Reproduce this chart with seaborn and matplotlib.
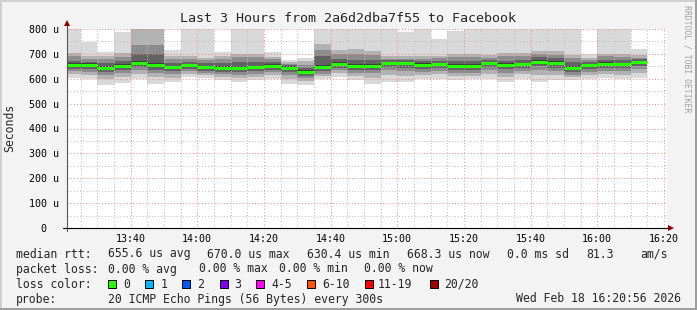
import numpy as np
import matplotlib
matplotlib.use("Agg")
import matplotlib.pyplot as plt
from matplotlib.patches import Rectangle
import seaborn as sns

sns.set_theme(style="white")
plt.rcParams["font.family"] = ["DejaVu Sans Mono", "DejaVu Sans"]

# ---------------- data (microseconds) ----------------
# 5-minute blocks, first starts at 13:20 (minutes after midnight)
block_start = np.arange(800, 975, 5)

median = [655, 655, 644, 651, 663, 655, 647, 655, 647, 643, 644, 646, 652, 644, 628, 647, 660, 652,
          651, 663, 663, 657, 660, 652, 652, 663, 657, 660, 669, 663, 644, 655, 660, 660, 668]
hi1 = [800, 749, 707, 787, 800, 800, 716, 800, 800, 709, 800, 800, 706, 675, 685, 800, 800, 800,
       800, 800, 787, 800, 760, 792, 800, 800, 800, 800, 800, 800, 800, 698, 800, 800, 720]
hi3 = [705, 690, 693, 702, 800, 800, 690, 690, 683, 690, 700, 700, 688, 668, 670, 740, 715, 720,
       710, 690, 690, 690, 690, 700, 700, 695, 705, 705, 710, 710, 695, 685, 700, 700, 695]
hi5 = [690, 678, 680, 688, 736, 736, 678, 680, 675, 680, 688, 686, 678, 660, 655, 715, 700, 700,
       695, 680, 680, 680, 682, 688, 688, 685, 690, 692, 698, 696, 682, 675, 690, 688, 685]
hi7 = [672, 668, 664, 670, 700, 700, 662, 668, 662, 665, 668, 668, 668, 655, 645, 690, 680, 676,
       675, 675, 674, 670, 672, 670, 670, 676, 672, 676, 688, 684, 666, 668, 676, 676, 680]
hi9 = [662, 662, 652, 658, 672, 665, 653, 661, 653, 650, 651, 653, 658, 650, 635, 655, 667, 660,
       658, 668, 668, 663, 665, 658, 658, 668, 663, 665, 675, 670, 650, 660, 666, 665, 673]
lo9 = [647, 646, 636, 644, 655, 646, 640, 647, 640, 636, 636, 638, 645, 636, 620, 638, 652, 644,
       643, 655, 655, 648, 652, 644, 645, 655, 648, 652, 660, 655, 636, 648, 652, 652, 660]
lo7 = [640, 638, 626, 636, 646, 636, 632, 640, 632, 628, 628, 630, 636, 628, 612, 630, 644, 636,
       634, 646, 645, 638, 644, 636, 636, 646, 638, 644, 650, 645, 628, 640, 644, 643, 652]
lo5 = [630, 628, 614, 624, 635, 624, 620, 630, 624, 618, 616, 618, 626, 615, 602, 620, 634, 624,
       622, 634, 632, 626, 632, 624, 625, 634, 624, 632, 636, 632, 616, 628, 632, 630, 640]
lo3 = [618, 614, 598, 606, 618, 606, 604, 620, 614, 606, 602, 606, 614, 598, 590, 610, 622, 610,
       604, 614, 612, 614, 618, 610, 612, 620, 606, 618, 614, 614, 606, 616, 620, 614, 625]
lo1 = [604, 601, 575, 584, 598, 580, 588, 608, 604, 595, 588, 595, 600, 579, 575, 600, 608, 595,
       579, 586, 588, 601, 601, 595, 598, 601, 586, 601, 586, 595, 595, 601, 604, 598, 604]

ytick_vals = [0, 100, 200, 300, 400, 500, 600, 700, 800]
ytick_labels = ["0", "100 u", "200 u", "300 u", "400 u", "500 u", "600 u", "700 u", "800 u"]
xtick_vals = [820, 840, 860, 880, 900, 920, 940, 960, 980]
xtick_labels = ["13:40", "14:00", "14:20", "14:40", "15:00", "15:20", "15:40", "16:00", "16:20"]

title = "Last 3 Hours from 2a6d2dba7f55 to Facebook"
loss_labels = ["0", "1", "2", "3", "4-5", "6-10", "11-19", "20/20"]
loss_colors = ["#26ff00", "#00b8ff", "#0059ff", "#7e00ff", "#ff00ff", "#ff5500", "#ff0000", "#a10000"]

# ---------------- figure ----------------
W, H, DPI = 697, 310, 100
fig = plt.figure(figsize=(W / DPI, H / DPI), dpi=DPI, facecolor="#f3f3f3")

def fx(px):
    return px / W

def fy(py):
    return 1 - py / H

ax_left, ax_right, ax_top, ax_bot = 67, 667, 29, 228
ax = fig.add_axes([fx(ax_left), fy(ax_bot), (ax_right - ax_left) / W, (ax_bot - ax_top) / H])
ax.set_facecolor("white")
t0 = 800 + 56 / 60
ax.set_xlim(t0, t0 + 180)
ax.set_ylim(0, 800)

def tpx(px):
    return t0 + (px - ax_left) * 180 / (ax_right - ax_left)

def vpx(py):
    return (ax_bot - py) * 800 / (ax_bot - ax_top)

edges = np.append(block_start, block_start[-1] + 5)
layers = [(lo1, hi1, "#d9d9d9"), (lo3, hi3, "#b2b2b2"), (lo5, hi5, "#8c8c8c"),
          (lo7, hi7, "#636363"), (lo9, hi9, "#3c3c3c")]
for lo, hi, c in layers:
    ax.stairs(hi, edges, baseline=lo, fill=True, color=c, lw=0, zorder=1)

ax.hlines(median, edges[:-1], edges[1:], color="#26ff00", lw=2.2, zorder=3, capstyle="butt")

# grid
ax.set_yticks(ytick_vals)
ax.set_yticklabels(ytick_labels)
ax.set_yticks(np.arange(50, 800, 100), minor=True)
ax.set_xticks(xtick_vals)
ax.set_xticklabels(xtick_labels)
ax.set_xticks([m for m in range(805, 981, 5) if m not in xtick_vals], minor=True)
ax.set_axisbelow(False)
ax.grid(which="major", color="#f08080", linestyle=(0, (1, 2)), lw=0.75, alpha=0.85)
ax.grid(which="minor", color="#c0c0c0", linestyle=(0, (1, 2)), lw=0.75)
ax.tick_params(which="both", length=0)
ax.tick_params(axis="y", pad=5.5, labelsize=7.2, labelcolor="black")
ax.tick_params(axis="x", pad=4.2, labelsize=7.2, labelcolor="black")
ax.yaxis.get_major_ticks()[0].label1.set_x(-12.5 / (ax_right - ax_left))
for s in ax.spines.values():
    s.set_visible(False)

# axis lines and arrows
ax.plot([tpx(63), tpx(669)], [0, 0], color="black", lw=0.8, clip_on=False, zorder=5)
ax.plot([t0, t0], [vpx(231), vpx(24)], color="#555555", lw=0.8, clip_on=False, zorder=5)
ax.plot([tpx(671)], [0], marker=">", ms=4.5, color="#8b0000", clip_on=False, zorder=6, mew=0)
ax.plot([t0], [vpx(23)], marker="^", ms=4.5, color="#8b0000", clip_on=False, zorder=6, mew=0)

# texts
fig.text(fx(348), fy(18), title, ha="center", va="center", fontsize=9.6)
fig.text(fx(10), fy(128), "Seconds", rotation=90, ha="center", va="center", fontsize=8.3)
fig.text(fx(687.5), fy(5), "RRDTOOL / TOBI OETIKER", rotation=270, ha="center", va="top",
         fontsize=5.9, color="#a0a0a0")

fs = 8.3
rows = {
    254: [(16, "median rtt:"), (107.6, "655.6 us avg"), (206.7, "670.0 us max"), (306.7, "630.4 us min"),
          (406.7, "668.3 us now"), (506.7, "0.0 ms sd"), (585.8, "81.3"), (640, "am/s")],
    269: [(16, "packet loss:"), (107.6, "0.00 % avg"), (198.7, "0.00 % max"), (279, "0.00 % min"),
          (364.4, "0.00 % now")],
    284: [(16, "loss color:")],
    299: [(16, "probe:"), (107.6, "20 ICMP Echo Pings (56 Bytes) every 300s")],
}
for yy, items in rows.items():
    for xx, s in items:
        fig.text(fx(xx), fy(yy), s, ha="left", va="center", fontsize=fs)
fig.text(fx(681), fy(299), "Wed Feb 18 16:20:56 2026", ha="right", va="center", fontsize=fs)

box_x = [108.4, 145, 182, 219.6, 256, 307, 365, 430]
lab_x = [123.6, 161, 197, 234, 271, 322, 378, 444]
for bx, lx, lab, col in zip(box_x, lab_x, loss_labels, loss_colors):
    fig.add_artist(Rectangle((fx(bx), fy(288)), 8 / W, 8 / H, transform=fig.transFigure,
                             facecolor=col, edgecolor="black", lw=0.7))
    fig.text(fx(lx), fy(284), lab, ha="left", va="center", fontsize=fs)

# frame (3D shading)
fig.add_artist(Rectangle((0, 1 - 2 / H), 1, 2 / H, transform=fig.transFigure, color="#cfcfcf", lw=0))
fig.add_artist(Rectangle((0, 0), 2 / W, 1, transform=fig.transFigure, color="#cfcfcf", lw=0))
fig.add_artist(Rectangle((0, 0), 1, 2 / H, transform=fig.transFigure, color="#9e9e9e", lw=0))
fig.add_artist(Rectangle((1 - 2 / W, 0), 2 / W, 1, transform=fig.transFigure, color="#9e9e9e", lw=0))

fig.savefig("out.png", dpi=DPI, facecolor=fig.get_facecolor())
